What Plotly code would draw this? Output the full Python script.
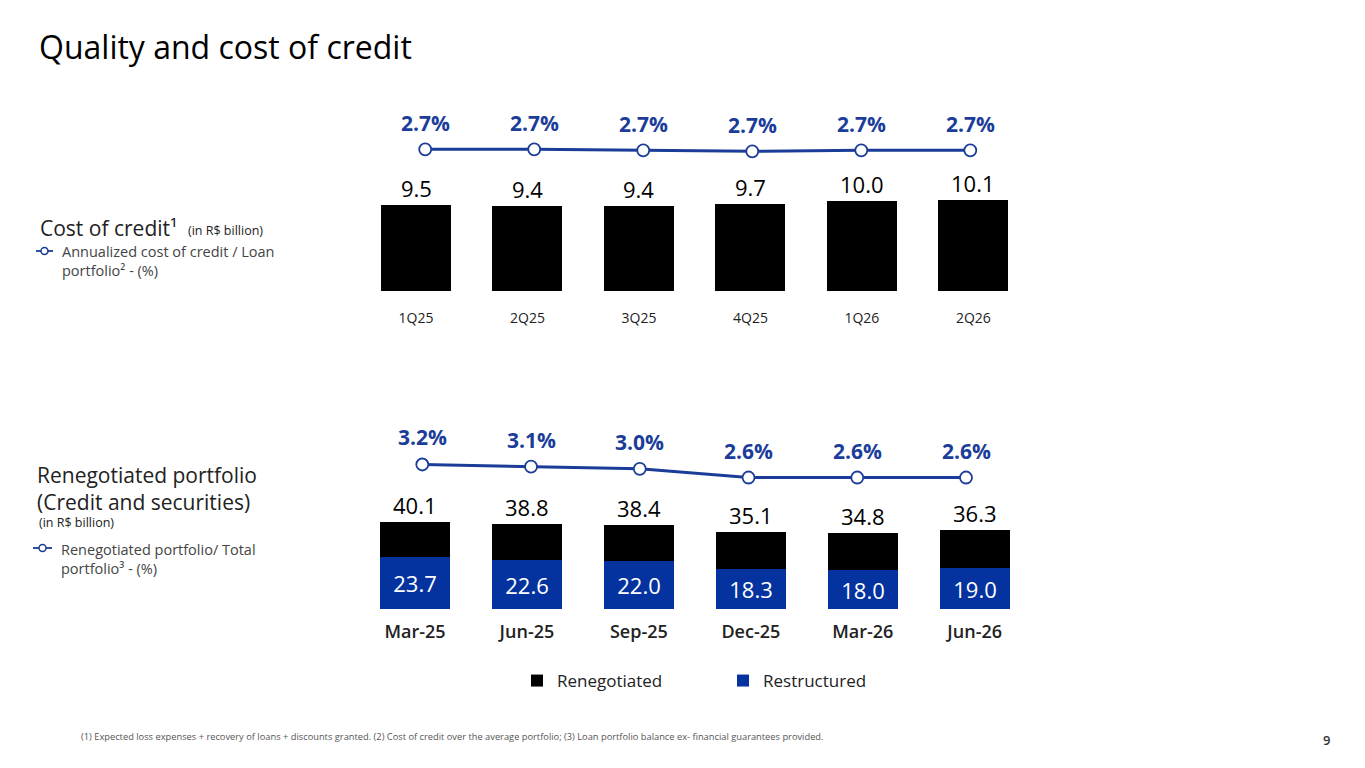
import plotly.graph_objects as go

# ---------------- data ----------------
quarters = ["1Q25", "2Q25", "3Q25", "4Q25", "1Q26", "2Q26"]
cost_of_credit = [9.5, 9.4, 9.4, 9.7, 10.0, 10.1]
cost_ratio = [2.72, 2.72, 2.71, 2.70, 2.71, 2.71]

months = ["Mar-25", "Jun-25", "Sep-25", "Dec-25", "Mar-26", "Jun-26"]
reneg_total = [40.1, 38.8, 38.4, 35.1, 34.8, 36.3]
restructured = [23.7, 22.6, 22.0, 18.3, 18.0, 19.0]
reneg_ratio = [3.2, 3.1, 3.0, 2.6, 2.6, 2.6]

renegotiated_only = [round(t - r, 1) for t, r in zip(reneg_total, restructured)]

# ---------------- style ----------------
W, H = 1365, 768
FONT = "Open Sans"
BLUE_LINE = "#1b3d99"
BLUE_BAR = "#0433a0"
BLACK = "#000000"


def px(x):
    return x / W


def py(y):
    return 1 - y / H


fig = go.Figure()

# top bars
fig.add_trace(go.Bar(
    x=quarters, y=cost_of_credit, xaxis="x", yaxis="y",
    marker=dict(color=BLACK, line=dict(width=0)), width=0.628,
    showlegend=False, hoverinfo="skip",
))
# top line
fig.add_trace(go.Scatter(
    x=quarters, y=cost_ratio, xaxis="x2", yaxis="y2", mode="lines+markers",
    line=dict(color=BLUE_LINE, width=3),
    marker=dict(size=12, color="white", line=dict(color=BLUE_LINE, width=1.8)),
    showlegend=False, hoverinfo="skip",
))

# bottom stacked bars
fig.add_trace(go.Bar(
    x=months, y=restructured, xaxis="x3", yaxis="y3", name="Restructured",
    marker=dict(color=BLUE_BAR, line=dict(width=0)), width=0.625,
    texttemplate="%{y:.1f}", textposition="inside", insidetextanchor="middle",
    textangle=0, textfont=dict(family=FONT, size=22, color="white"),
    legendrank=2, hoverinfo="skip",
))
fig.add_trace(go.Bar(
    x=months, y=renegotiated_only, xaxis="x3", yaxis="y3", name="Renegotiated",
    marker=dict(color=BLACK, line=dict(width=0)), width=0.625,
    legendrank=1, hoverinfo="skip",
))
# bottom line
fig.add_trace(go.Scatter(
    x=months, y=reneg_ratio, xaxis="x4", yaxis="y4", mode="lines+markers",
    line=dict(color=BLUE_LINE, width=3),
    marker=dict(size=12, color="white", line=dict(color=BLUE_LINE, width=1.8)),
    showlegend=False, hoverinfo="skip",
))

annotations = []
# value labels
for q, v in zip(quarters, cost_of_credit):
    annotations.append(dict(x=q, y=v, xref="x", yref="y", text=f"{v:.1f}",
                            showarrow=False, yanchor="middle", yshift=17,
                            font=dict(family=FONT, size=22, color=BLACK)))
for q, v in zip(quarters, cost_ratio):
    annotations.append(dict(x=q, y=v, xref="x2", yref="y2", text=f"{v:.1f}%",
                            showarrow=False, yanchor="middle", yshift=26,
                            font=dict(family=FONT, size=21, color=BLUE_LINE, weight=700)))
for m, v in zip(months, reneg_total):
    annotations.append(dict(x=m, y=v, xref="x3", yref="y3", text=f"{v:.1f}",
                            showarrow=False, yanchor="middle", yshift=17,
                            font=dict(family=FONT, size=22, color=BLACK)))
for m, v in zip(months, reneg_ratio):
    annotations.append(dict(x=m, y=v, xref="x4", yref="y4", text=f"{v:.1f}%",
                            showarrow=False, yanchor="middle", yshift=27,
                            font=dict(family=FONT, size=21, color=BLUE_LINE, weight=700)))


# static texts
def txt(x, y, text, size, color="#222222", weight=400, xanchor="left"):
    annotations.append(dict(x=px(x), y=py(y), xref="paper", yref="paper", text=text,
                            showarrow=False, xanchor=xanchor, yanchor="middle",
                            align="left",
                            font=dict(family=FONT, size=size, color=color, weight=weight)))


txt(37, 47, "Quality and cost of credit", 32, color="#000000")
txt(38, 228, "Cost of credit¹", 21)
txt(186, 230, "(in R$ billion)", 12.5)
txt(60, 251, "Annualized cost of credit / Loan", 14.5, color="#444444")
txt(60, 271, "portfolio² - (%)", 14.5, color="#444444")
txt(35, 488, "Renegotiated portfolio<br>(Credit and securities)", 21)
txt(37, 522, "(in R$ billion)", 12.5)
txt(59, 549, "Renegotiated portfolio/ Total", 14.5, color="#444444")
txt(59, 568, "portfolio³ - (%)", 14.5, color="#444444")
txt(79, 736, "(1) Expected loss expenses + recovery of loans + discounts granted. (2) Cost of credit over the average portfolio; (3) Loan portfolio balance ex- financial guarantees provided.",
    9.3, color="#555555")
txt(1326, 740, "9", 13, color="#333333", weight=600, xanchor="center")

# legend icons (line with hollow circle)
shapes = []
for (x0, x1, y) in [(36, 53, 251), (33, 52, 548)]:
    shapes.append(dict(type="line", xref="paper", yref="paper",
                       x0=px(x0), x1=px(x1), y0=py(y), y1=py(y),
                       line=dict(color=BLUE_LINE, width=1.8)))
    cx = (x0 + x1) / 2
    shapes.append(dict(type="circle", xref="paper", yref="paper",
                       x0=px(cx - 3.5), x1=px(cx + 3.5), y0=py(y + 3.5), y1=py(y - 3.5),
                       fillcolor="white", line=dict(color=BLUE_LINE, width=1.5)))

hidden_y = dict(visible=False, showgrid=False, zeroline=False, fixedrange=True)

fig.update_layout(
    width=W, height=H,
    margin=dict(l=0, r=0, t=0, b=0),
    paper_bgcolor="white", plot_bgcolor="white",
    barmode="stack", bargap=0,
    font=dict(family=FONT, color="#222222"),
    showlegend=True,
    legend=dict(orientation="h", x=px(517), xanchor="left", y=py(681), yanchor="middle",
                font=dict(family=FONT, size=17, color="#222222"),
                entrywidth=161, entrywidthmode="pixels",
                traceorder="normal", bgcolor="rgba(0,0,0,0)"),
    xaxis=dict(domain=[0, 1], range=[-3.7316, 8.5128], showgrid=False, zeroline=False,
               showline=False, ticks="outside", ticklen=14, tickcolor="rgba(0,0,0,0)",
               tickfont=dict(family=FONT, size=14, color="#222222"), anchor="y",
               fixedrange=True),
    xaxis2=dict(overlaying="x", range=[-3.9002, 8.6204], visible=False, anchor="y2",
                showgrid=False, zeroline=False, fixedrange=True),
    yaxis=dict(domain=[py(291), py(100)], range=[0, 21.22], **hidden_y),
    yaxis2=dict(overlaying="y", range=[1.303, 3.213], **hidden_y),
    xaxis3=dict(domain=[0, 1], range=[-3.7074, 8.4868], showgrid=False, zeroline=False,
                showline=False, ticks="outside", ticklen=6, tickcolor="rgba(0,0,0,0)",
                tickfont=dict(family=FONT, size=18, color="#222222", weight=600),
                anchor="y3", fixedrange=True),
    xaxis4=dict(overlaying="x3", range=[-3.8836, 8.6693], visible=False, anchor="y4",
                showgrid=False, zeroline=False, fixedrange=True),
    yaxis3=dict(domain=[py(609), py(400)], range=[0, 95.87], **hidden_y),
    yaxis4=dict(overlaying="y3", range=[-3.459, 6.172], **hidden_y),
    annotations=annotations,
    shapes=shapes,
)

fig.write_html("out.html", config=dict(displayModeBar=False),
               post_script="document.body.style.margin='0';document.body.style.padding='0';")
